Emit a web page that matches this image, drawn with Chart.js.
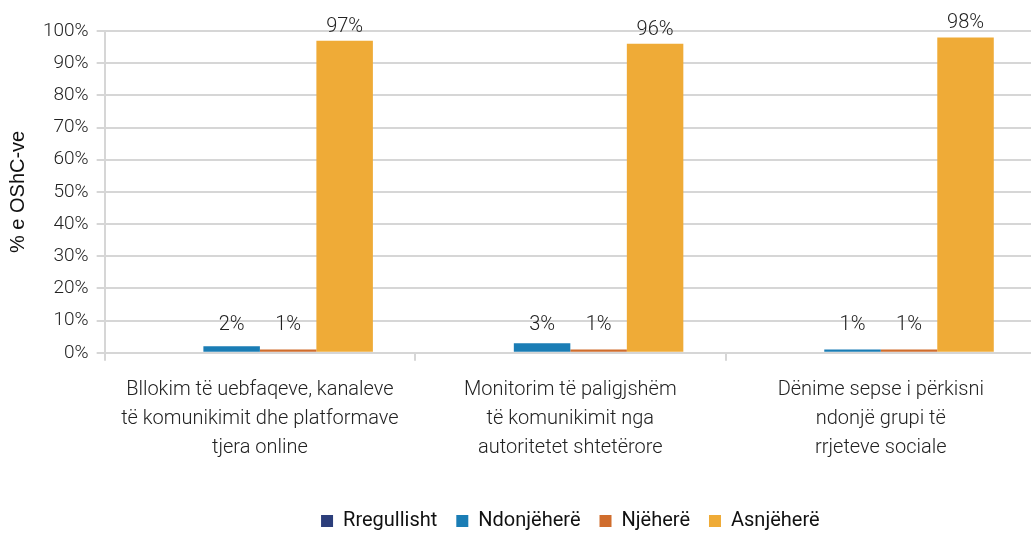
<!DOCTYPE html>
<html>
<head>
<meta charset="utf-8">
<script src="https://cdn.jsdelivr.net/npm/chart.js@4.4.1/dist/chart.umd.min.js"></script>
<style>
  html, body { margin: 0; padding: 0; background: #fff; overflow: hidden; }
  #wrap { width: 1040px; height: 533px; }
</style>
</head>
<body>
<div id="wrap"><canvas id="chart"></canvas></div>
<script>
// DATI
const categories = [
  ['Bllokim të uebfaqeve, kanaleve', 'të komunikimit dhe platformave', 'tjera online'],
  ['Monitorim të paligjshëm', 'të komunikimit nga', 'autoritetet shtetërore'],
  ['Dënime sepse i përkisni', 'ndonjë grupi të', 'rrjeteve sociale']
];
const seriesNames = ['Rregullisht', 'Ndonjëherë', 'Njëherë', 'Asnjëherë'];
const rregullisht = [0, 0, 0];
const ndonjehere = [2, 3, 1];
const njehere = [1, 1, 1];
const asnjehere = [97, 96, 98];
const yTicks = [0, 10, 20, 30, 40, 50, 60, 70, 80, 90, 100];

const colors = ['#2C3E7B', '#1A7DB5', '#D06D2D', '#EFAB37'];
const allValues = [rregullisht, ndonjehere, njehere, asnjehere];

// etichette sopra le barre
const valueLabels = {
  id: 'valueLabels',
  afterDatasetsDraw(chart) {
    const ctx = chart.ctx;
    const yScale = chart.scales.y;
    ctx.save();
    ctx.font = '300 20px Roboto';
    ctx.fillStyle = '#222';
    ctx.textAlign = 'center';
    ctx.textBaseline = 'alphabetic';
    chart.data.datasets.forEach((ds, i) => {
      const meta = chart.getDatasetMeta(i);
      meta.data.forEach((bar, j) => {
        const v = ds.data[j];
        if (!v) return;
        const y = Math.min(bar.y - 9, yScale.getPixelForValue(7));
        ctx.fillText(v + '%', bar.x, y);
      });
    });
    ctx.restore();
  }
};

const ctx = document.getElementById('chart').getContext('2d');
new Chart(ctx, {
  type: 'bar',
  data: {
    labels: categories,
    datasets: seriesNames.map((name, i) => ({
      label: name,
      data: allValues[i],
      backgroundColor: colors[i],
      borderWidth: 0,
      categoryPercentage: 0.728,
      barPercentage: 1
    }))
  },
  plugins: [valueLabels],
  options: {
    responsive: true,
    maintainAspectRatio: false,
    animation: false,
    layout: { padding: { top: 31, right: 4, left: 6, bottom: -8 } },
    plugins: {
      tooltip: { enabled: false },
      legend: {
        position: 'bottom',
        fullSize: false,
        labels: {
          boxWidth: 12,
          boxHeight: 12,
          padding: 19,
          color: '#111',
          font: { family: 'Roboto', size: 20, weight: 400 }
        }
      }
    },
    scales: {
      x: {
        grid: {
          drawOnChartArea: false,
          drawTicks: true,
          tickLength: 8,
          color: '#d6d6d6',
          lineWidth: 2
        },
        border: { color: '#d6d6d6', width: 2 },
        ticks: {
          color: '#222',
          padding: 15,
          maxRotation: 0,
          autoSkip: false,
          font: { family: 'Roboto', size: 20, weight: 300, lineHeight: 1.45 }
        },
        title: {
          display: true,
          text: ' ',
          color: 'rgba(0,0,0,0)',
          padding: { top: 0, bottom: 13 },
          font: { size: 1 }
        }
      },
      y: {
        min: 0,
        max: 100,
        afterBuildTicks: (axis) => { axis.ticks = yTicks.map(v => ({ value: v })); },
        grid: { color: '#d6d6d6', lineWidth: 2, tickLength: 8 },
        border: { color: '#d6d6d6', width: 2 },
        ticks: {
          color: '#222',
          padding: 8,
          callback: (v) => v + '%',
          font: { family: 'Roboto', size: 19, weight: 300 }
        },
        title: {
          display: true,
          text: '% e OShC-ve',
          color: '#111',
          padding: { top: 0, bottom: 5 },
          font: { family: 'Liberation Sans', size: 20 }
        }
      }
    }
  }
});
</script>
</body>
</html>
